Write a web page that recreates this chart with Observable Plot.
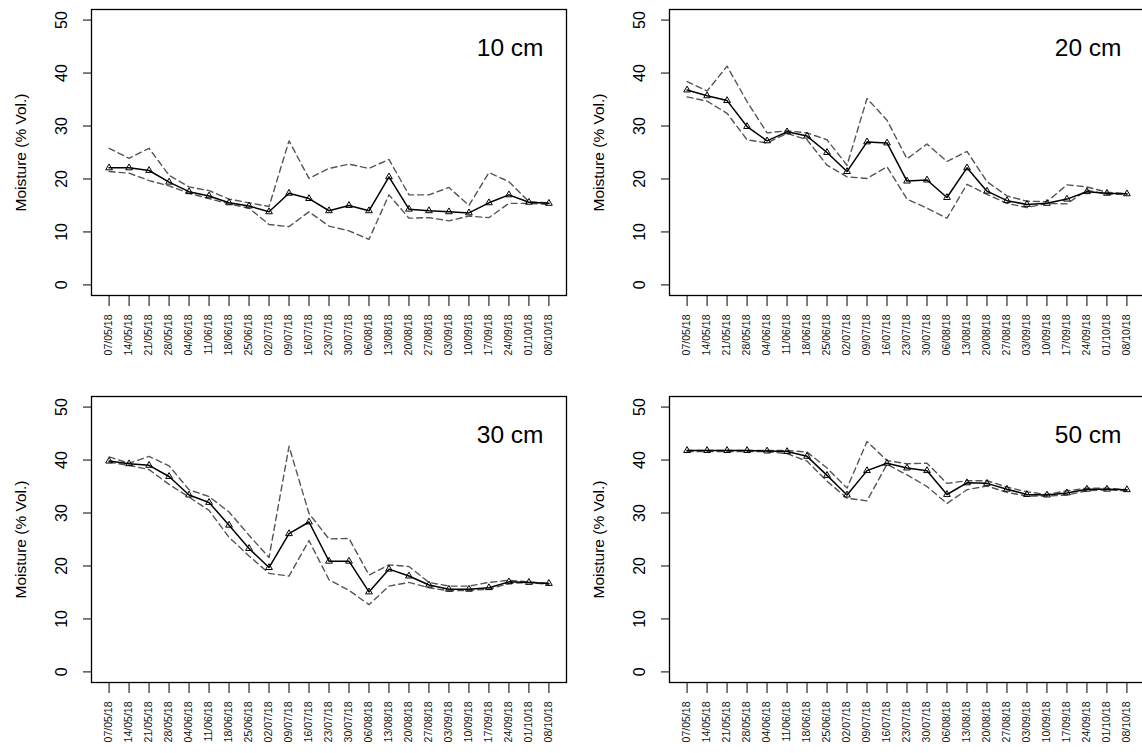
<!DOCTYPE html>
<html><head><meta charset="utf-8">
<script src="https://cdn.jsdelivr.net/npm/d3@7"></script>
<script src="https://cdn.jsdelivr.net/npm/@observablehq/plot@0.6"></script>
<style>
html,body{margin:0;padding:0;background:#fff;overflow:hidden;}
#wrap{position:relative;width:1142px;height:753px;overflow:hidden;font-family:"Liberation Sans",Arial,sans-serif;}
.panel{position:absolute;}
</style></head><body><div id="wrap"></div>
<script>
const dates = ["07/05/18","14/05/18","21/05/18","28/05/18","04/06/18","11/06/18","18/06/18","25/06/18","02/07/18","09/07/18","16/07/18","23/07/18","30/07/18","06/08/18","13/08/18","20/08/18","27/08/18","03/09/18","10/09/18","17/09/18","24/09/18","01/10/18","08/10/18"];
const yTicks = [0,10,20,30,40,50];

const mean10  = [22.1,22.1,21.6,19.4,17.6,16.8,15.5,14.9,13.8,17.3,16.3,14.0,15.0,14.0,20.4,14.3,14.0,13.8,13.6,15.5,17.0,15.6,15.4];
const upper10 = [25.8,23.9,25.8,20.7,18.5,17.8,16.2,15.5,14.8,27.2,20.1,22.0,22.8,22.0,23.7,17.0,17.0,18.4,15.0,21.2,19.5,15.7,15.5];
const lower10 = [21.4,21.1,19.7,18.7,17.3,16.3,15.3,14.5,11.4,11.0,13.8,11.1,10.2,8.6,17.0,12.6,12.7,12.1,13.0,12.7,15.4,15.4,15.2];

const mean20  = [36.8,35.7,34.8,29.9,27.2,28.9,28.1,25.0,21.4,27.0,26.8,19.6,19.8,16.5,22.1,17.7,15.9,15.2,15.4,16.2,17.6,17.3,17.2];
const upper20 = [38.4,36.6,41.3,34.6,28.7,29.1,28.7,27.4,22.6,35.2,31.1,23.8,26.6,23.3,25.2,19.5,16.8,15.8,15.7,18.9,18.5,17.5,17.2];
const lower20 = [35.5,34.7,32.4,27.4,26.8,28.6,27.4,22.6,20.4,20.1,22.3,16.2,14.5,12.6,19.0,17.1,15.4,14.6,15.4,15.3,17.9,17.1,17.1];

const mean30  = [39.8,39.3,39.0,36.9,33.4,32.0,27.7,23.3,19.7,26.1,28.3,20.9,20.9,15.1,19.4,18.1,16.4,15.6,15.6,15.9,17.0,16.9,16.7];
const upper30 = [40.6,39.4,40.7,38.9,34.4,33.1,30.2,25.8,21.6,42.6,29.9,25.1,25.2,18.3,20.2,19.9,16.9,16.2,16.2,16.9,17.3,17.0,16.7];
const lower30 = [39.6,39.0,38.2,35.4,33.0,30.5,25.4,21.9,18.6,18.1,24.8,17.4,15.4,12.7,16.2,16.9,15.9,15.3,15.4,15.6,16.7,16.9,16.5];

const mean50  = [41.8,41.8,41.8,41.8,41.7,41.6,40.7,37.1,33.4,38.0,39.4,38.5,38.0,33.5,35.7,35.6,34.5,33.5,33.4,33.8,34.5,34.5,34.4];
const upper50 = [41.8,41.8,41.8,41.8,41.8,41.8,41.5,38.5,34.7,43.5,39.9,39.3,39.4,35.6,36.1,36.1,34.9,34.0,33.5,34.2,34.7,34.7,34.4];
const lower50 = [41.6,41.6,41.6,41.6,41.6,41.2,39.8,36.0,32.8,32.3,39.2,37.2,35.0,31.8,34.4,35.1,33.9,33.2,33.2,33.4,34.2,34.4,34.2];

const panelLabels = ["10 cm","20 cm","30 cm","50 cm"];
const yTitle = "Moisture (% Vol.)";

const panels = [
  {label: panelLabels[0], mean: mean10, upper: upper10, lower: lower10, left: 0,   top: 1},
  {label: panelLabels[1], mean: mean20, upper: upper20, lower: lower20, left: 578, top: 1},
  {label: panelLabels[2], mean: mean30, upper: upper30, lower: lower30, left: 0,   top: 388},
  {label: panelLabels[3], mean: mean50, upper: upper50, lower: lower50, left: 578, top: 388}
];

const wrap = document.getElementById("wrap");
for (const p of panels) {
  const rows = dates.map((d, i) => ({i, date: d, mean: p.mean[i], upper: p.upper[i], lower: p.lower[i]}));
  const chart = Plot.plot({
    width: 571, height: 380,
    marginLeft: 91, marginRight: 5, marginTop: 8, marginBottom: 86,
    style: {fontFamily: "'Liberation Sans', Arial, sans-serif", background: "transparent", overflow: "visible", color: "#000"},
    x: {type: "linear", domain: [-0.88, 22.88]},
    y: {domain: [-2, 52]},
    marks: [
      Plot.axisX({ticks: d3.range(dates.length), tickFormat: () => "", tickSize: 11, label: null}),
      Plot.text(rows, {x: "i", text: "date", frameAnchor: "bottom", dy: 19, rotate: -90, textAnchor: "end", lineAnchor: "middle", fontSize: 10.5, fill: "#111", ariaLabel: "date labels"}),
      Plot.axisY({ticks: yTicks, tickSize: 8, tickRotate: -90, tickPadding: 17, fontSize: 16, label: null}),
      Plot.lineY(rows, {x: "i", y: "upper", stroke: "#555", strokeWidth: 1.4, strokeDasharray: "6,4"}),
      Plot.lineY(rows, {x: "i", y: "lower", stroke: "#555", strokeWidth: 1.4, strokeDasharray: "6,4"}),
      Plot.lineY(rows, {x: "i", y: "mean", stroke: "#000", strokeWidth: 1.5}),
      Plot.dot(rows, {x: "i", y: "mean", symbol: "triangle", r: 2.5, stroke: "#000", fill: "none", strokeWidth: 1}),
      Plot.frame({stroke: "#000", strokeWidth: 1.3}),
      Plot.text([p.label], {frameAnchor: "top-right", text: d => d, dx: -23, dy: 29, fontSize: 24.5, textAnchor: "end", lineAnchor: "top", fill: "#000"}),
      Plot.text([yTitle], {frameAnchor: "left", text: d => d, rotate: -90, dx: -70, fontSize: 15.5, textAnchor: "middle", fill: "#000"})
    ]
  });
  chart.classList.add("panel");
  chart.style.left = p.left + "px";
  chart.style.top = p.top + "px";
  const s = d3.select(chart);
  s.selectAll('g[aria-label="date labels"] text').style("letter-spacing", "1.2px");
  s.selectAll('g[aria-label="y-axis tick label"]').attr("font-size", 16);
  s.selectAll('g[aria-label="y-axis tick label"] text').style("font-size", "16px");
  wrap.appendChild(chart);
}
</script></body></html>
